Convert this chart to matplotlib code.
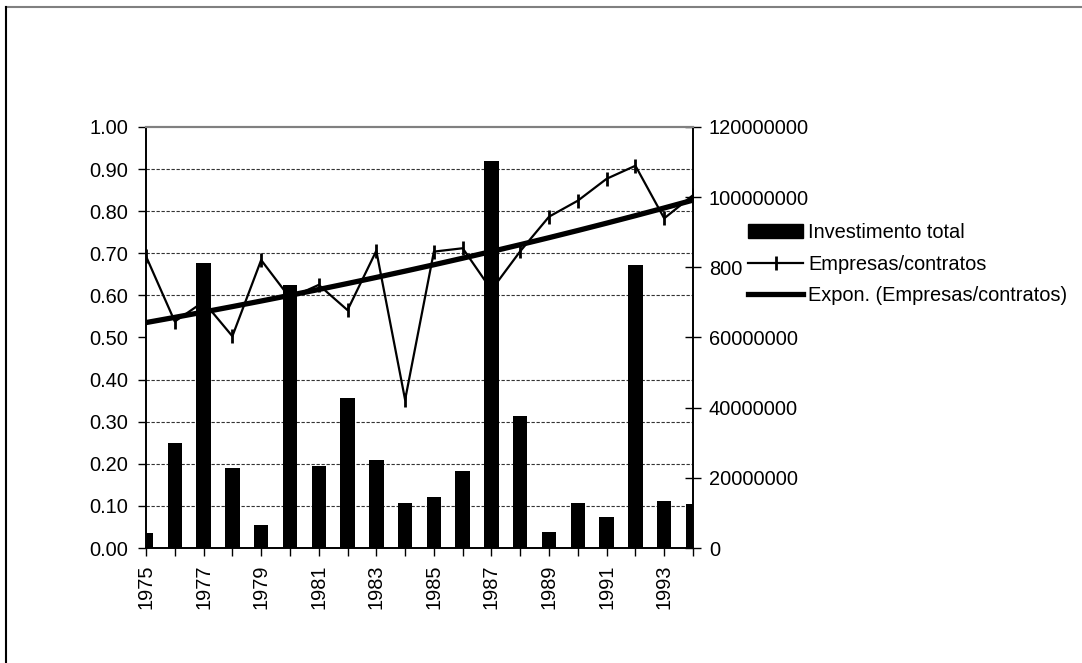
import numpy as np
import matplotlib
matplotlib.use("Agg")
import matplotlib.pyplot as plt
from matplotlib.ticker import MultipleLocator, FuncFormatter, FixedLocator
from matplotlib.lines import Line2D
from matplotlib.patches import Patch

plt.rcParams['font.family'] = ['Liberation Sans', 'DejaVu Sans']

# Data
years = list(range(1975, 1995))
investimento = [4.4e6, 30.0e6, 81.2e6, 22.8e6, 6.6e6, 75.0e6, 23.5e6, 42.7e6,
                25.0e6, 12.9e6, 14.5e6, 22.0e6, 110.4e6, 37.6e6, 4.5e6, 12.7e6,
                8.7e6, 80.7e6, 13.5e6, 12.5e6]
empresas_contratos = [0.693, 0.538, 0.585, 0.503, 0.684, 0.594, 0.625, 0.565,
                      0.706, 0.352, 0.704, 0.712, 0.613, 0.705, 0.787, 0.825,
                      0.877, 0.908, 0.783, 0.838]

x = np.arange(len(years))

# Exponential trend fitted to the ratio series
b, a = np.polyfit(x, np.log(empresas_contratos), 1)
trend = np.exp(a + b * x)

FS = 14.4
W, H = 1082, 663
fig = plt.figure(figsize=(W / 100, H / 100), dpi=100)

left, right, bottom, top = 146, 693, 548, 127
ax = fig.add_axes([left / W, 1 - bottom / H, (right - left) / W, (bottom - top) / H])
ax2 = ax.twinx()

# Bars on the secondary (right) scale, below the ratio lines
ax2.bar(x, investimento, width=0.5, color='black', zorder=3)
ax2.set_ylim(0, 120e6)
ax2.yaxis.set_major_locator(MultipleLocator(20e6))
ax2.yaxis.set_major_formatter(FuncFormatter(lambda v, p: f"{int(round(v))}"))
ax2.yaxis.set_minor_locator(FixedLocator([12e6 * k for k in range(1, 10)]))
ax2.grid(which='minor', axis='y', color='#333333', linestyle=(0, (3, 1.5)), linewidth=0.8)
ax2.set_axisbelow(True)
ax2.tick_params(axis='y', which='major', direction='inout', length=11, width=1,
                labelsize=FS, pad=6, colors='black')
ax2.tick_params(axis='y', which='minor', length=0)

ax.set_zorder(ax2.get_zorder() + 1)
ax.patch.set_visible(False)

ax.plot(x, empresas_contratos, color='black', linewidth=1.6, marker='|',
        markersize=10, markeredgewidth=2, zorder=4)
ax.plot(x, trend, color='black', linewidth=3.8, solid_capstyle='round', zorder=5)

ax.set_xlim(0, len(years) - 1)
ax.set_ylim(0, 1)
ax.yaxis.set_major_locator(MultipleLocator(0.1))
ax.yaxis.set_major_formatter(FuncFormatter(lambda v, p: f"{v:.2f}"))
ax.set_xticks(x)
ax.set_xticklabels([str(y) if (y - 1975) % 2 == 0 else '' for y in years], rotation=90)
ax.tick_params(axis='y', direction='out', length=6, width=1, labelsize=FS, pad=7)
ax.tick_params(axis='x', direction='out', length=6, width=1, labelsize=FS, pad=6)

for a_ in (ax, ax2):
    a_.spines['top'].set_color('#808080')
    a_.spines['top'].set_linewidth(1.5)
    a_.spines['left'].set_linewidth(1.2)
    a_.spines['right'].set_linewidth(1.2)
    a_.spines['bottom'].set_linewidth(1.2)

# Legend
handles = [
    Patch(facecolor='black', edgecolor='black'),
    Line2D([], [], color='black', linewidth=1.6, marker='|', markersize=10, markeredgewidth=2),
    Line2D([], [], color='black', linewidth=3.8),
]
labels = ['Investimento total', 'Empresas/contratos', 'Expon. (Empresas/contratos)']
leg = fig.legend(handles, labels, loc='upper left', bbox_to_anchor=(742 / W, 1 - 217 / H),
                 frameon=True, fancybox=False, framealpha=1, facecolor='white',
                 edgecolor='none', fontsize=FS, handlelength=2.75, handletextpad=0.25,
                 labelspacing=0.63, borderpad=0.3, borderaxespad=0)

# Chart border
fig.add_artist(Line2D([6 / W, 1], [1 - 7 / H, 1 - 7 / H], color='#808080', linewidth=1.5,
                      transform=fig.transFigure))
fig.add_artist(Line2D([6 / W, 6 / W], [0, 1 - 7 / H], color='black', linewidth=1.5,
                      transform=fig.transFigure))

fig.savefig('out.png', dpi=100, facecolor='white')
